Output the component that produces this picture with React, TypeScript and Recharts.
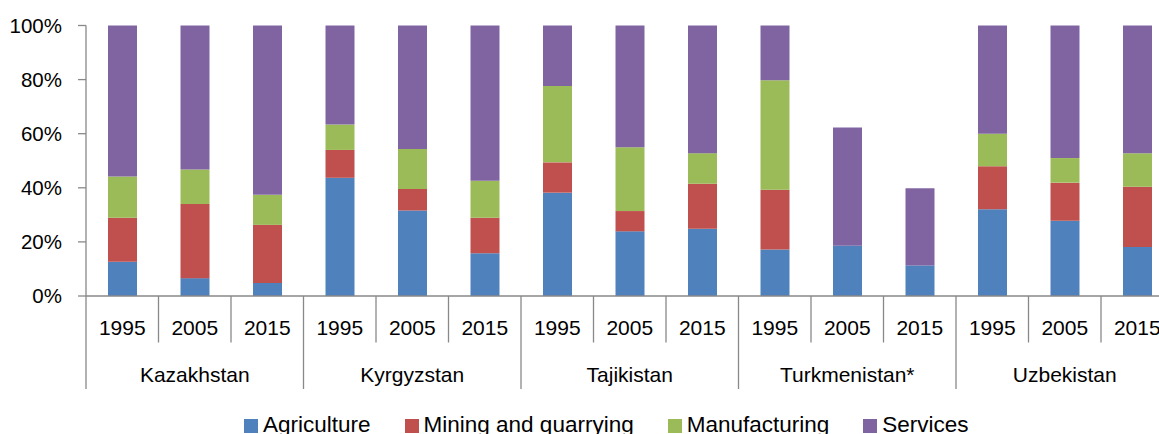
import { BarChart, Bar, XAxis, YAxis, Legend } from 'recharts'

const countries = ['Kazakhstan', 'Kyrgyzstan', 'Tajikistan', 'Turkmenistan*', 'Uzbekistan']
const years = ['1995', '2005', '2015']

// shares in %, one value per country/year bar
const agriculture = [12.7, 6.6, 4.8, 43.7, 31.6, 15.8, 38.2, 23.9, 24.9, 17.2, 18.6, 11.3, 32.1, 27.8, 18.1]
const mining = [16.2, 27.4, 21.5, 10.3, 8.0, 13.1, 11.2, 7.5, 16.6, 22.1, null, null, 15.9, 14.1, 22.3]
const manufacturing = [15.3, 12.8, 11.1, 9.4, 14.7, 13.7, 28.2, 23.6, 11.3, 40.5, null, null, 12.0, 9.1, 12.4]
const services = [55.8, 53.2, 62.6, 36.6, 45.7, 57.4, 22.4, 45.0, 47.2, 20.2, 43.7, 28.5, 40.0, 49.0, 47.2]

const seriesNames = ['Agriculture', 'Mining and quarrying', 'Manufacturing', 'Services']
const seriesKeys = ['agriculture', 'mining', 'manufacturing', 'services']
const colors = ['#4F81BD', '#C0504D', '#9BBB59', '#8064A2']
const yTicks = [0, 20, 40, 60, 80, 100]

const data = countries.flatMap((country, c) =>
  years.map((year, y) => {
    const i = c * years.length + y
    return {
      key: `${country} ${year}`,
      country,
      year,
      agriculture: agriculture[i],
      mining: mining[i],
      manufacturing: manufacturing[i],
      services: services[i],
    }
  })
)

const W = 1180
const H = 434
const MARGIN = { top: 25.5, right: 6.5, bottom: 38, left: 0 }
const Y_W = 86
const X_H = 100
const PLOT_BOTTOM = H - MARGIN.bottom - X_H
const BAND = (W - MARGIN.left - MARGIN.right - Y_W) / data.length
const AXIS_GRAY = '#898989'
const FONT = '"Liberation Sans", Arial, sans-serif'

const CategoryTick = (props: any) => {
  const { x, index } = props
  const row = data[index]
  const pos = index % years.length
  const left = x - BAND / 2
  const right = x + BAND / 2
  const isLast = index === data.length - 1
  return (
    <g>
      <line x1={left} x2={left} y1={PLOT_BOTTOM} y2={PLOT_BOTTOM + (pos === 0 ? 93 : 46.5)} stroke={AXIS_GRAY} strokeWidth={1.3} />
      {isLast && (
        <line x1={right} x2={right} y1={PLOT_BOTTOM} y2={PLOT_BOTTOM + 93} stroke={AXIS_GRAY} strokeWidth={1.3} />
      )}
      <text x={x} y={PLOT_BOTTOM + 39} textAnchor="middle" fontSize={21} fontFamily={FONT} fill="#000">
        {row.year}
      </text>
      {pos === 1 && (
        <text x={x} y={PLOT_BOTTOM + 85.7} textAnchor="middle" fontSize={21} fontFamily={FONT} fill="#000">
          {row.country}
        </text>
      )}
    </g>
  )
}

const LegendContent = () => (
  <div style={{ display: 'flex', fontFamily: FONT, fontSize: 22.5, lineHeight: '26px', color: '#000', whiteSpace: 'nowrap' }}>
    {seriesNames.map((name, i) => (
      <div key={name} style={{ display: 'flex', alignItems: 'flex-start', marginRight: 34 }}>
        <span style={{ width: 14, height: 14, marginTop: 7, marginRight: 5, background: colors[i], display: 'inline-block' }} />
        <span>{name}</span>
      </div>
    ))}
  </div>
)

export default function App() {
  return (
    <div style={{ position: 'fixed', left: 0, top: 0, width: 1159, height: 434, overflow: 'hidden', background: '#fff' }}>
      <BarChart width={W} height={H} data={data} margin={MARGIN} barSize={29}>
        <XAxis
          dataKey="key"
          height={X_H}
          interval={0}
          tickLine={false}
          axisLine={{ stroke: AXIS_GRAY, strokeWidth: 1.3 }}
          tick={<CategoryTick />}
        />
        <YAxis
          width={Y_W}
          domain={[0, 100]}
          ticks={yTicks}
          tickFormatter={(v: number) => `${v}%`}
          tickSize={8}
          tickMargin={16}
          tickLine={{ stroke: AXIS_GRAY, strokeWidth: 1.3 }}
          axisLine={{ stroke: AXIS_GRAY, strokeWidth: 1.3 }}
          tick={{ fill: '#000', fontSize: 20.5, fontFamily: FONT }}
        />
        <Legend
          layout="horizontal"
          verticalAlign="middle"
          align="center"
          wrapperStyle={{ left: 244, top: 412, width: 900 }}
          content={() => <LegendContent />}
        />
        {seriesKeys.map((k, i) => (
          <Bar key={k} dataKey={k} name={seriesNames[i]} stackId="a" fill={colors[i]} isAnimationActive={false} />
        ))}
      </BarChart>
    </div>
  )
}
